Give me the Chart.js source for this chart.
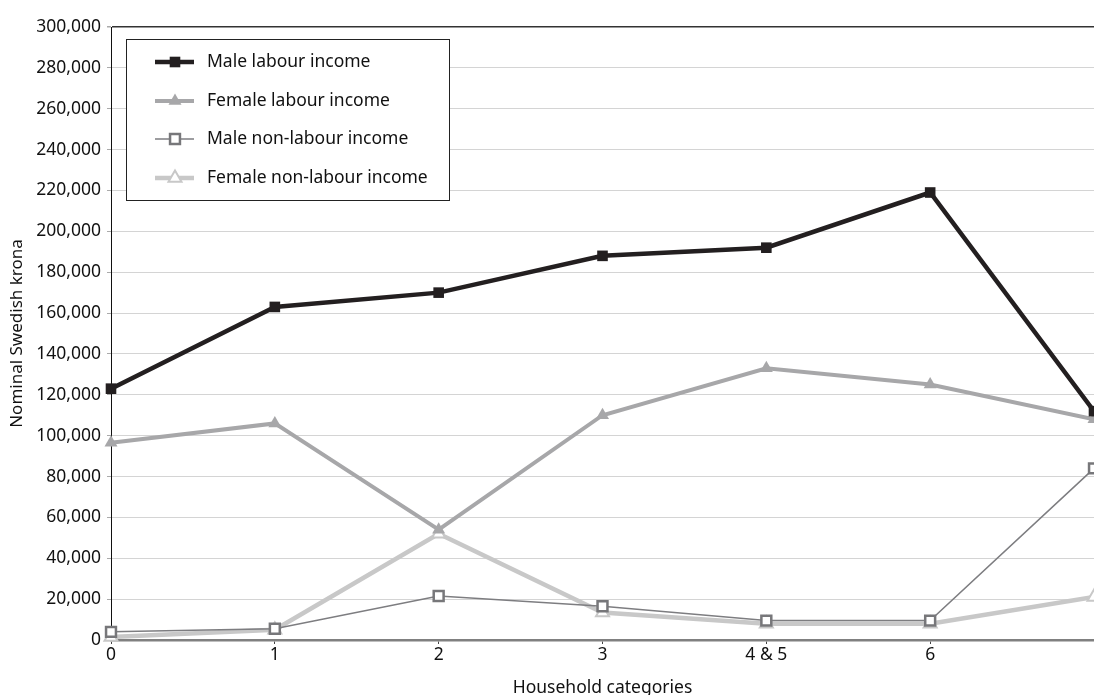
<!DOCTYPE html>
<html lang="en">
<head>
  <meta charset="UTF-8" />
  <title>Income by household category</title>
  <script src="https://cdn.jsdelivr.net/npm/chart.js"></script>
  <style>
    html, body {
      margin: 0;
      padding: 0;
      background: #fff;
      overflow: hidden;
    }

    .wrap {
      width: 1094px;
      height: 695px;
    }
  </style>
</head>
<body>
  <div class="wrap"><canvas id="chart"></canvas></div>

  <script>
    // household categories (last one has no label in the source)
    const categories = ['0', '1', '2', '3', '4 & 5', '6', ''];

    const maleLabour = [123000, 163000, 170000, 188000, 192000, 219000, 112000];
    const femaleLabour = [96500, 106000, 54000, 110000, 133000, 125000, 108000];
    const maleNonLabour = [4000, 5500, 21500, 16500, 9500, 9500, 84000];
    const femaleNonLabour = [1500, 5000, 52000, 13500, 8000, 8000, 21000];

    const yTicks = [0, 20000, 40000, 60000, 80000, 100000, 120000, 140000, 160000,
      180000, 200000, 220000, 240000, 260000, 280000, 300000];

    const FONT = "'Noto Sans', sans-serif";
    const TEXT = '#111';

    function fmt(v) {
      return Number(v).toLocaleString('en-US');
    }

    // legend drawn inside the plot, boxed, like the original figure
    const boxLegend = {
      id: 'boxLegend',
      afterDraw(chart) {
        const ctx = chart.ctx;
        const x0 = 126, y0 = 39, w = 323, h = 161;
        ctx.save();
        ctx.fillStyle = '#fff';
        ctx.fillRect(x0, y0, w, h);
        ctx.strokeStyle = '#222';
        ctx.lineWidth = 1;
        ctx.strokeRect(x0 + 0.5, y0 + 0.5, w, h);

        const rows = [62, 101, 139, 178];
        chart.data.datasets.forEach((ds, i) => {
          const y = rows[i];
          ctx.strokeStyle = ds.borderColor;
          ctx.lineWidth = ds.borderWidth;
          ctx.beginPath();
          ctx.moveTo(155, y);
          ctx.lineTo(194, y);
          ctx.stroke();

          const cx = 175;
          ctx.fillStyle = ds.pointBackgroundColor;
          ctx.strokeStyle = ds.pointBorderColor;
          ctx.lineWidth = ds.pointBorderWidth;
          ctx.beginPath();
          if (ds.pointStyle === 'rect') {
            const s = ds.pointRadius * Math.SQRT1_2;
            ctx.rect(cx - s, y - s, s * 2, s * 2);
          } else {
            const r = ds.pointRadius;
            ctx.moveTo(cx, y - r);
            ctx.lineTo(cx + r * 0.866, y + r / 2);
            ctx.lineTo(cx - r * 0.866, y + r / 2);
            ctx.closePath();
          }
          ctx.fill();
          if (ds.pointBorderWidth) ctx.stroke();

          ctx.fillStyle = TEXT;
          ctx.font = '17.5px ' + FONT;
          ctx.textBaseline = 'middle';
          ctx.textAlign = 'left';
          ctx.fillText(ds.label, 207, y);
        });
        ctx.restore();
      }
    };

    new Chart(document.getElementById('chart'), {
      type: 'line',
      data: {
        labels: categories,
        datasets: [{
          label: 'Male labour income',
          data: maleLabour,
          borderColor: '#231f20',
          borderWidth: 4.5,
          pointStyle: 'rect',
          pointRadius: 7.5,
          pointBackgroundColor: '#231f20',
          pointBorderColor: '#231f20',
          pointBorderWidth: 0,
          tension: 0,
          clip: false
        }, {
          label: 'Female labour income',
          data: femaleLabour,
          borderColor: '#a7a7a9',
          borderWidth: 4,
          pointStyle: 'triangle',
          pointRadius: 7.5,
          pointBackgroundColor: '#a7a7a9',
          pointBorderColor: '#a7a7a9',
          pointBorderWidth: 0,
          tension: 0,
          clip: false
        }, {
          label: 'Male non-labour income',
          data: maleNonLabour,
          borderColor: '#7d7d80',
          borderWidth: 1.5,
          pointStyle: 'rect',
          pointRadius: 7,
          pointBackgroundColor: '#fff',
          pointBorderColor: '#77777a',
          pointBorderWidth: 2.5,
          tension: 0,
          clip: false
        }, {
          label: 'Female non-labour income',
          data: femaleNonLabour,
          borderColor: '#c8c8c8',
          borderWidth: 4.5,
          pointStyle: 'triangle',
          pointRadius: 7.5,
          pointBackgroundColor: '#fff',
          pointBorderColor: '#c8c8c8',
          pointBorderWidth: 2,
          tension: 0,
          clip: false
        }]
      },
      options: {
        responsive: true,
        maintainAspectRatio: false,
        animation: false,
        layout: {
          autoPadding: false,
          padding: { top: 27, right: -4, bottom: 0, left: 0 }
        },
        plugins: {
          legend: { display: false },
          tooltip: { enabled: false }
        },
        scales: {
          x: {
            offset: false,
            afterFit(scale) {
              scale.height = 55;
              scale.paddingLeft = 0;
              scale.paddingRight = 0;
            },
            border: { color: '#808080', width: 2.5 },
            grid: {
              drawOnChartArea: false,
              drawTicks: true,
              tickLength: 4,
              tickColor: '#444'
            },
            ticks: {
              color: TEXT,
              font: { family: FONT, size: 17.5 },
              padding: 1,
              maxRotation: 0,
              autoSkip: false
            },
            title: {
              display: true,
              text: 'Household categories',
              color: TEXT,
              font: { family: FONT, size: 17.5, lineHeight: 1 },
              padding: { top: 0, bottom: -2 }
            }
          },
          y: {
            min: 0,
            max: 300000,
            afterFit(scale) { scale.width = 111; },
            afterBuildTicks(scale) {
              scale.ticks = yTicks.map(v => ({ value: v }));
            },
            border: { color: '#111', width: 1 },
            grid: {
              color: ctx => ctx.tick && ctx.tick.value === 300000 ? '#333' : '#d4d4d4',
              lineWidth: ctx => ctx.tick && ctx.tick.value === 300000 ? 1.5 : 1,
              tickLength: 4,
              tickColor: '#aaa'
            },
            ticks: {
              color: TEXT,
              font: { family: FONT, size: 17.5 },
              padding: 6,
              callback: v => fmt(v)
            },
            title: {
              display: true,
              text: 'Nominal Swedish krona',
              color: TEXT,
              font: { family: FONT, size: 17 },
              padding: { top: 7, bottom: 0 }
            }
          }
        }
      },
      plugins: [boxLegend]
    });
  </script>
</body>
</html>
